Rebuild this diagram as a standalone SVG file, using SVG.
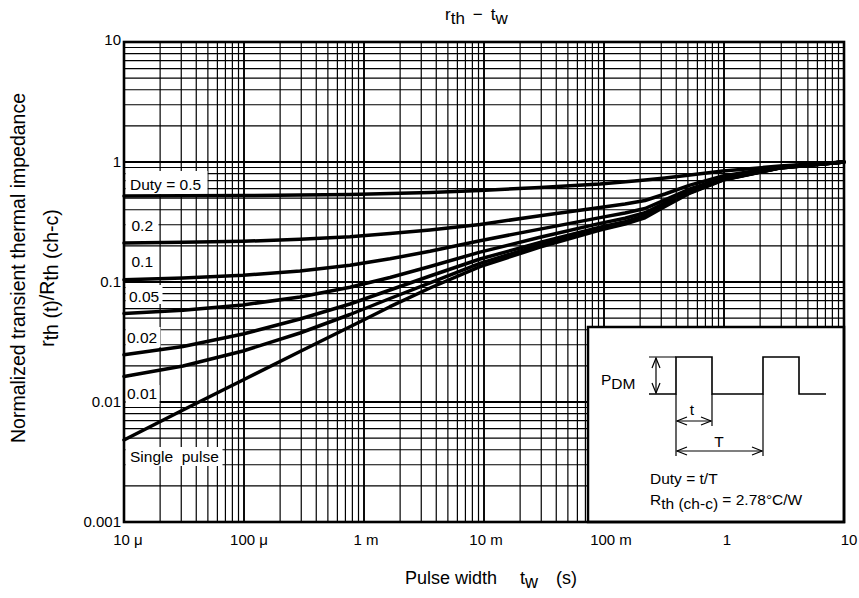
<svg xmlns="http://www.w3.org/2000/svg" xmlns:xlink="http://www.w3.org/1999/xlink" width="859" height="598" viewBox="0 0 859 598">
<style>
text{font-family:"Liberation Sans",Arial,sans-serif;fill:#000}
.g{fill:none;stroke:#000;stroke-width:1.2}
.gm{fill:none;stroke:#000;stroke-width:1.9}
.c{fill:none;stroke:#000;stroke-width:3.5;stroke-linejoin:round;stroke-linecap:round}
.tk{font-size:15px}
.lb{font-size:15.5px}
.box{fill:#fff;stroke:none}
.w{fill:none;stroke:#000;stroke-width:1.6}
.d{fill:none;stroke:#000;stroke-width:1.2}
.ar{fill:none;stroke:#000;stroke-width:1.2;marker-start:url(#ah);marker-end:url(#ah)}
</style>
<defs>
<marker id="ah" viewBox="-11 -5 12 10" refX="0" refY="0" markerWidth="12" markerHeight="10" markerUnits="userSpaceOnUse" orient="auto-start-reverse">
<path d="M-10,-4 L0,0 L-10,4" fill="none" stroke="#000" stroke-width="1.2"/>
</marker>
<path id="vdec" d="M36.12 42V522M57.25 42V522M72.25 42V522M83.88 42V522M93.38 42V522M101.41 42V522M108.37 42V522M114.51 42V522"/>
<path id="hdec" d="M124 5.49H844M124 11.63H844M124 18.59H844M124 26.62H844M124 36.12H844M124 47.75H844M124 62.75H844M124 83.88H844"/>
</defs>
<rect width="859" height="598" fill="#fff"/>

<g id="grid">
<g class="g">
<use xlink:href="#vdec" x="124"/><use xlink:href="#vdec" x="244"/><use xlink:href="#vdec" x="364"/><use xlink:href="#vdec" x="484"/><use xlink:href="#vdec" x="604"/><use xlink:href="#vdec" x="724"/>
<use xlink:href="#hdec" y="42"/><use xlink:href="#hdec" y="162"/><use xlink:href="#hdec" y="282"/><use xlink:href="#hdec" y="402"/>
</g>
<path class="gm" d="M244 42V522M364 42V522M484 42V522M604 42V522M724 42V522M124 162H844M124 282H844M124 402H844"/>
</g>

<g id="label-boxes">
<rect class="box" x="125.5" y="171" width="82" height="23"/>
<rect class="box" x="125.5" y="214" width="33" height="22"/>
<rect class="box" x="125.5" y="253" width="31" height="18"/>
<rect class="box" x="125.5" y="285" width="37" height="19"/>
<rect class="box" x="125.5" y="327" width="35" height="20"/>
<rect class="box" x="125.5" y="385" width="34" height="19"/>
<rect class="box" x="125.5" y="447" width="97" height="19"/>
</g>

<g id="curves">
<path id="c-05" class="c" d="M124,196 L243,195.5 L300,195 L350,194.5 L390,193.5 L430,192.5 L480,190.5 L540,187.5 L600,184 L640,180.5 L665,178 L690,175 L723,171 L780,166 L844,162"/>
<path id="c-02" class="c" d="M124,243 L183,242.3 L243,241.3 L300,239.3 L350,236.8 L390,233.6 L430,230 L480,224.5 L540,215.7 L600,207.6 L625,204 L645,200.5 L665,194 L690,185.1 L723,175.9 L780,166.7 L844,162"/>
<path id="c-01" class="c" d="M124,279.8 L183,278.1 L243,275.3 L300,270.9 L350,265.2 L390,258.8 L430,251.3 L480,240.7 L540,229.1 L600,217.6 L625,213 L645,208.5 L665,199.8 L690,188.9 L723,177.9 L780,167.4 L844,162"/>
<path id="c-005" class="c" d="M124,313.5 L183,310.3 L243,304.9 L300,297 L350,287.3 L390,277.5 L430,266.5 L480,252.1 L540,237.3 L600,223.4 L625,218.3 L645,212.8 L665,202.8 L690,190.9 L723,178.9 L780,167.7 L844,162"/>
<path id="c-002" class="c" d="M124,354.8 L183,346.5 L243,334 L300,319 L350,304 L390,290 L430,276 L480,259 L540,242.5 L600,227.3 L625,221.6 L645,215.8 L665,204.8 L690,192.2 L723,179.6 L780,167.9 L844,162"/>
<path id="c-001" class="c" d="M124,376.5 L183,366 L243,351 L300,333 L350,314.5 L390,298.5 L430,282.9 L480,263.4 L540,244.9 L600,228.6 L625,222.8 L645,216.8 L665,205.5 L690,192.6 L723,179.8 L780,167.9 L844,162"/>
<path id="c-single" class="c" d="M124,440 L183,410 L243,380 L300,351.5 L350,326.7 L390,306.7 L430,288 L480,266.7 L540,247 L600,230 L625,224 L645,217.8 L665,206.5 L690,193 L723,180 L780,168 L844,162"/>
</g>

<g id="curve-labels" class="lb">
<text x="130" y="190">Duty = 0.5</text>
<text x="131.5" y="231">0.2</text>
<text x="131.5" y="267">0.1</text>
<text x="129" y="301.5">0.05</text>
<text x="127" y="342.5">0.02</text>
<text x="127" y="399">0.01</text>
<text x="130" y="461.5" style="white-space:pre">Single  pulse</text>
</g>

<g id="inset">
<rect x="588" y="327" width="256" height="195" fill="#fff" stroke="#000" stroke-width="2.5"/>
<path class="w" d="M649,394 H676 V357 H712 V394 H763 V357 H799 V394 H826"/>
<path class="d" d="M649,357 H676 M676,394 V456 M712,394 V426 M763,394 V456"/>
<path class="ar" d="M656,358 V393"/>
<path class="ar" d="M677,421 H711"/>
<path class="ar" d="M677,451 H762"/>
<text class="lb" x="601" y="385">P<tspan dy="4">DM</tspan></text>
<text class="lb" x="692" y="415" text-anchor="middle">t</text>
<text class="lb" x="719" y="447" text-anchor="middle">T</text>
<text class="lb" x="650" y="483.5">Duty = t/T</text>
<text class="lb" x="650" y="504.5">R<tspan dy="4">th (ch-c)</tspan><tspan dy="-4"> = 2.78°C/W</tspan></text>
</g>

<rect id="frame" x="124" y="42" width="720" height="480" fill="none" stroke="#000" stroke-width="2.6"/>

<g id="y-ticks" class="tk" text-anchor="end">
<text x="121" y="45">10</text>
<text x="121" y="167">1</text>
<text x="121" y="287">0.1</text>
<text x="121" y="407">0.01</text>
<text x="121" y="527">0.001</text>
</g>
<g id="x-ticks" class="tk" text-anchor="middle">
<text x="128" y="545">10 μ</text>
<text x="249" y="545">100 μ</text>
<text x="366" y="545">1 m</text>
<text x="486" y="545">10 m</text>
<text x="611" y="545">100 m</text>
<text x="727" y="545">1</text>
<text x="849" y="545">10</text>
</g>

<g id="titles">
<text font-size="17" x="445" y="20">r<tspan dy="4">th</tspan><tspan dx="8" dy="-4">−</tspan><tspan dx="8">t</tspan><tspan dy="4">w</tspan></text>
<text font-size="18" y="584"><tspan x="405">Pulse width</tspan><tspan x="520">t</tspan><tspan x="525" dy="4">w</tspan><tspan x="556" dy="-4">(s)</tspan></text>
<text font-size="19.5" transform="translate(25,268) rotate(-90)" text-anchor="middle">Normalized transient thermal impedance</text>
<text font-size="19.5" transform="translate(54,278) rotate(-90)" text-anchor="middle">r<tspan dy="4">th (t)</tspan><tspan dy="-4">/R</tspan><tspan dy="4">th (ch-c)</tspan></text>
</g>
</svg>
